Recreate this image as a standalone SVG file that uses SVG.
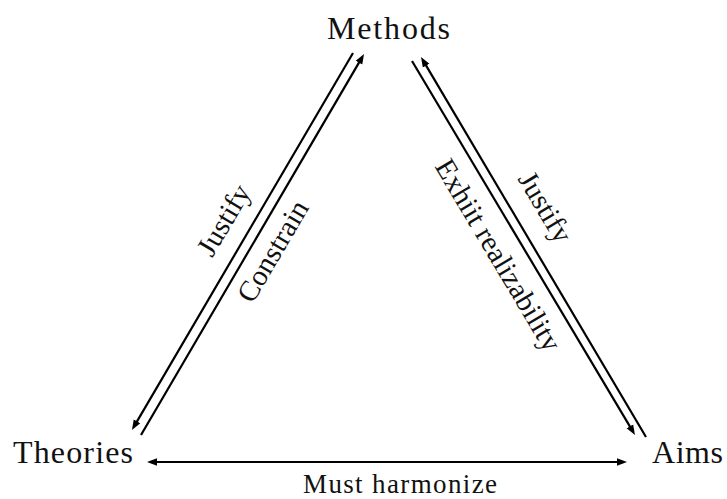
<svg xmlns="http://www.w3.org/2000/svg" width="727" height="499" viewBox="0 0 727 499">
<style>
.lbl{font-family:"Liberation Serif","Times New Roman",serif;fill:#111;}
.node{font-size:32px;}
.edge{font-size:29px;}
.ln{stroke:#000;stroke-width:2.2;fill:none;}
</style>
<defs>
<marker id="ah" markerUnits="userSpaceOnUse" markerWidth="12" markerHeight="10" viewBox="0 -5 12 10" refX="2" refY="0" orient="auto-start-reverse">
<path d="M0,-3.8 L10,0 L0,3.8 Z" fill="#000"/>
</marker>
</defs>
<rect width="727" height="499" fill="#fff"/>
<g id="connectors">
<line class="ln" x1="353" y1="53" x2="136" y2="423.1" marker-end="url(#ah)"/>
<line class="ln" x1="141" y1="435" x2="360" y2="60.9" marker-end="url(#ah)"/>
<line class="ln" x1="412" y1="61" x2="630.9" y2="428.1" marker-end="url(#ah)"/>
<line class="ln" x1="646" y1="437" x2="425.1" y2="63.9" marker-end="url(#ah)"/>
<line class="ln" x1="155" y1="462" x2="619" y2="462" stroke-width="2.6" marker-start="url(#ah)" marker-end="url(#ah)"/>
<text class="lbl edge" text-anchor="middle" transform="translate(232,225) rotate(-59.5)">Justify</text>
<text class="lbl edge" text-anchor="middle" transform="translate(281,256) rotate(-59.5)">Constrain</text>
<text class="lbl edge" text-anchor="middle" transform="translate(537,212) rotate(59.2)">Justify</text>
<text class="lbl edge" text-anchor="middle" textLength="218" transform="translate(490,260) rotate(59.2)">Exhiit realizability</text>
<text class="lbl" font-size="27" x="303" y="493" textLength="194">Must harmonize</text>
</g>
<g id="methods"><text class="lbl node" x="327" y="39" textLength="123">Methods</text></g>
<g id="theories"><text class="lbl node" x="13" y="463" textLength="120">Theories</text></g>
<g id="aims"><text class="lbl node" x="652" y="463" textLength="71">Aims</text></g>
</svg>
